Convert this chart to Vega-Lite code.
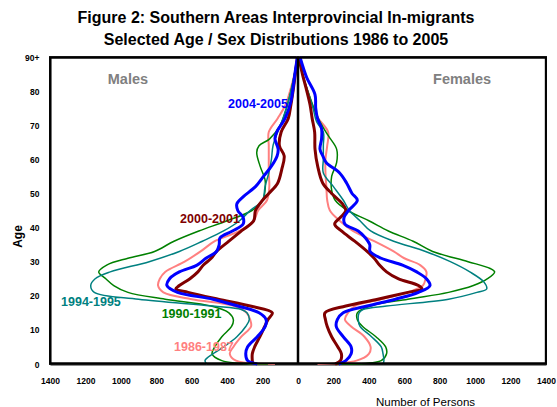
{
"$schema": "https://vega.github.io/schema/vega-lite/v6.json",
"width": 496, "height": 307,
"autosize": {"type": "none"},
"padding": {"left": 50, "top": 57, "right": 11, "bottom": 43},
"background": "white",
"config": {"font": "Liberation Sans", "view": {"stroke": "#1a1a1a", "strokeWidth": 2}, "axis": {"labelOverlap": false}},
"title": {"text": ["Figure 2: Southern Areas Interprovincial In-migrants", "Selected Age / Sex Distributions 1986 to 2005"], "font": "Liberation Sans", "fontSize": 16, "fontWeight": "bold", "color": "#000", "anchor": "middle", "dx": -22, "offset": 3, "lineHeight": 22},
"datasets": {
"lines": [
{"s":"1986-1987","g":"M","a":0,"n":-130},{"s":"1986-1987","g":"M","a":1,"n":-350},{"s":"1986-1987","g":"M","a":3,"n":-385},{"s":"1986-1987","g":"M","a":5,"n":-365},{"s":"1986-1987","g":"M","a":8,"n":-320},{"s":"1986-1987","g":"M","a":11,"n":-265},{"s":"1986-1987","g":"M","a":13,"n":-270},{"s":"1986-1987","g":"M","a":15,"n":-290},{"s":"1986-1987","g":"M","a":17,"n":-360},{"s":"1986-1987","g":"M","a":19,"n":-600},{"s":"1986-1987","g":"M","a":21,"n":-760},{"s":"1986-1987","g":"M","a":23,"n":-790},{"s":"1986-1987","g":"M","a":25,"n":-780},{"s":"1986-1987","g":"M","a":27,"n":-750},{"s":"1986-1987","g":"M","a":30,"n":-640},{"s":"1986-1987","g":"M","a":33,"n":-550},{"s":"1986-1987","g":"M","a":36,"n":-470},{"s":"1986-1987","g":"M","a":39,"n":-330},{"s":"1986-1987","g":"M","a":42,"n":-250},{"s":"1986-1987","g":"M","a":45,"n":-225},{"s":"1986-1987","g":"M","a":48,"n":-175},{"s":"1986-1987","g":"M","a":52,"n":-162},{"s":"1986-1987","g":"M","a":56,"n":-165},{"s":"1986-1987","g":"M","a":60,"n":-165},{"s":"1986-1987","g":"M","a":64,"n":-165},{"s":"1986-1987","g":"M","a":68,"n":-165},{"s":"1986-1987","g":"M","a":72,"n":-115},{"s":"1986-1987","g":"M","a":76,"n":-70},{"s":"1986-1987","g":"M","a":80,"n":-45},{"s":"1986-1987","g":"M","a":85,"n":-20},{"s":"1986-1987","g":"M","a":90,"n":-3},
{"s":"1990-1991","g":"M","a":0,"n":-170},{"s":"1990-1991","g":"M","a":1,"n":-430},{"s":"1990-1991","g":"M","a":3,"n":-485},{"s":"1990-1991","g":"M","a":5,"n":-470},{"s":"1990-1991","g":"M","a":8,"n":-430},{"s":"1990-1991","g":"M","a":11,"n":-375},{"s":"1990-1991","g":"M","a":13,"n":-365},{"s":"1990-1991","g":"M","a":15,"n":-390},{"s":"1990-1991","g":"M","a":17,"n":-490},{"s":"1990-1991","g":"M","a":19,"n":-750},{"s":"1990-1991","g":"M","a":21,"n":-960},{"s":"1990-1991","g":"M","a":23,"n":-1040},{"s":"1990-1991","g":"M","a":25,"n":-1085},{"s":"1990-1991","g":"M","a":27,"n":-1125},{"s":"1990-1991","g":"M","a":29,"n":-1080},{"s":"1990-1991","g":"M","a":31,"n":-960},{"s":"1990-1991","g":"M","a":33,"n":-810},{"s":"1990-1991","g":"M","a":36,"n":-700},{"s":"1990-1991","g":"M","a":39,"n":-560},{"s":"1990-1991","g":"M","a":42,"n":-400},{"s":"1990-1991","g":"M","a":45,"n":-260},{"s":"1990-1991","g":"M","a":48,"n":-200},{"s":"1990-1991","g":"M","a":51,"n":-186},{"s":"1990-1991","g":"M","a":54,"n":-186},{"s":"1990-1991","g":"M","a":58,"n":-214},{"s":"1990-1991","g":"M","a":62,"n":-233},{"s":"1990-1991","g":"M","a":64,"n":-220},{"s":"1990-1991","g":"M","a":66,"n":-160},{"s":"1990-1991","g":"M","a":70,"n":-100},{"s":"1990-1991","g":"M","a":75,"n":-65},{"s":"1990-1991","g":"M","a":80,"n":-40},{"s":"1990-1991","g":"M","a":85,"n":-20},{"s":"1990-1991","g":"M","a":90,"n":-3},
{"s":"1994-1995","g":"M","a":0,"n":-515},{"s":"1994-1995","g":"M","a":1,"n":-525},{"s":"1994-1995","g":"M","a":3,"n":-480},{"s":"1994-1995","g":"M","a":5,"n":-420},{"s":"1994-1995","g":"M","a":8,"n":-345},{"s":"1994-1995","g":"M","a":11,"n":-295},{"s":"1994-1995","g":"M","a":13,"n":-275},{"s":"1994-1995","g":"M","a":15,"n":-288},{"s":"1994-1995","g":"M","a":16,"n":-320},{"s":"1994-1995","g":"M","a":17,"n":-480},{"s":"1994-1995","g":"M","a":19,"n":-900},{"s":"1994-1995","g":"M","a":21,"n":-1150},{"s":"1994-1995","g":"M","a":23,"n":-1170},{"s":"1994-1995","g":"M","a":25,"n":-1145},{"s":"1994-1995","g":"M","a":27,"n":-1060},{"s":"1994-1995","g":"M","a":30,"n":-840},{"s":"1994-1995","g":"M","a":33,"n":-670},{"s":"1994-1995","g":"M","a":36,"n":-540},{"s":"1994-1995","g":"M","a":39,"n":-420},{"s":"1994-1995","g":"M","a":42,"n":-330},{"s":"1994-1995","g":"M","a":45,"n":-270},{"s":"1994-1995","g":"M","a":48,"n":-200},{"s":"1994-1995","g":"M","a":52,"n":-186},{"s":"1994-1995","g":"M","a":56,"n":-165},{"s":"1994-1995","g":"M","a":60,"n":-150},{"s":"1994-1995","g":"M","a":64,"n":-141},{"s":"1994-1995","g":"M","a":68,"n":-115},{"s":"1994-1995","g":"M","a":72,"n":-85},{"s":"1994-1995","g":"M","a":76,"n":-60},{"s":"1994-1995","g":"M","a":80,"n":-40},{"s":"1994-1995","g":"M","a":85,"n":-20},{"s":"1994-1995","g":"M","a":90,"n":-3},
{"s":"2000-2001","g":"M","a":0,"n":-255},{"s":"2000-2001","g":"M","a":1,"n":-258},{"s":"2000-2001","g":"M","a":3,"n":-258},{"s":"2000-2001","g":"M","a":5,"n":-245},{"s":"2000-2001","g":"M","a":8,"n":-215},{"s":"2000-2001","g":"M","a":11,"n":-188},{"s":"2000-2001","g":"M","a":13,"n":-170},{"s":"2000-2001","g":"M","a":15,"n":-145},{"s":"2000-2001","g":"M","a":17,"n":-270},{"s":"2000-2001","g":"M","a":19,"n":-450},{"s":"2000-2001","g":"M","a":21,"n":-620},{"s":"2000-2001","g":"M","a":22,"n":-690},{"s":"2000-2001","g":"M","a":23,"n":-670},{"s":"2000-2001","g":"M","a":25,"n":-610},{"s":"2000-2001","g":"M","a":27,"n":-565},{"s":"2000-2001","g":"M","a":29,"n":-534},{"s":"2000-2001","g":"M","a":31,"n":-490},{"s":"2000-2001","g":"M","a":33,"n":-460},{"s":"2000-2001","g":"M","a":36,"n":-390},{"s":"2000-2001","g":"M","a":39,"n":-320},{"s":"2000-2001","g":"M","a":42,"n":-250},{"s":"2000-2001","g":"M","a":45,"n":-240},{"s":"2000-2001","g":"M","a":48,"n":-200},{"s":"2000-2001","g":"M","a":50,"n":-165},{"s":"2000-2001","g":"M","a":53,"n":-115},{"s":"2000-2001","g":"M","a":57,"n":-92},{"s":"2000-2001","g":"M","a":61,"n":-78},{"s":"2000-2001","g":"M","a":64,"n":-105},{"s":"2000-2001","g":"M","a":68,"n":-95},{"s":"2000-2001","g":"M","a":72,"n":-55},{"s":"2000-2001","g":"M","a":76,"n":-40},{"s":"2000-2001","g":"M","a":80,"n":-28},{"s":"2000-2001","g":"M","a":85,"n":-15},{"s":"2000-2001","g":"M","a":90,"n":-3},
{"s":"2004-2005","g":"M","a":0,"n":-230},{"s":"2004-2005","g":"M","a":1,"n":-285},{"s":"2004-2005","g":"M","a":3,"n":-295},{"s":"2004-2005","g":"M","a":5,"n":-285},{"s":"2004-2005","g":"M","a":8,"n":-230},{"s":"2004-2005","g":"M","a":11,"n":-185},{"s":"2004-2005","g":"M","a":13,"n":-180},{"s":"2004-2005","g":"M","a":15,"n":-220},{"s":"2004-2005","g":"M","a":17,"n":-340},{"s":"2004-2005","g":"M","a":19,"n":-480},{"s":"2004-2005","g":"M","a":21,"n":-680},{"s":"2004-2005","g":"M","a":23,"n":-740},{"s":"2004-2005","g":"M","a":25,"n":-725},{"s":"2004-2005","g":"M","a":27,"n":-670},{"s":"2004-2005","g":"M","a":29,"n":-570},{"s":"2004-2005","g":"M","a":31,"n":-520},{"s":"2004-2005","g":"M","a":33,"n":-460},{"s":"2004-2005","g":"M","a":35,"n":-445},{"s":"2004-2005","g":"M","a":37,"n":-440},{"s":"2004-2005","g":"M","a":39,"n":-370},{"s":"2004-2005","g":"M","a":41,"n":-310},{"s":"2004-2005","g":"M","a":43,"n":-310},{"s":"2004-2005","g":"M","a":45,"n":-340},{"s":"2004-2005","g":"M","a":47,"n":-345},{"s":"2004-2005","g":"M","a":49,"n":-310},{"s":"2004-2005","g":"M","a":52,"n":-240},{"s":"2004-2005","g":"M","a":55,"n":-195},{"s":"2004-2005","g":"M","a":58,"n":-150},{"s":"2004-2005","g":"M","a":61,"n":-118},{"s":"2004-2005","g":"M","a":63,"n":-112},{"s":"2004-2005","g":"M","a":66,"n":-130},{"s":"2004-2005","g":"M","a":68,"n":-120},{"s":"2004-2005","g":"M","a":72,"n":-73},{"s":"2004-2005","g":"M","a":77,"n":-40},{"s":"2004-2005","g":"M","a":82,"n":-25},{"s":"2004-2005","g":"M","a":86,"n":-15},{"s":"2004-2005","g":"M","a":90,"n":-3},
{"s":"1986-1987","g":"F","a":0,"n":110},{"s":"1986-1987","g":"F","a":1,"n":330},{"s":"1986-1987","g":"F","a":3,"n":400},{"s":"1986-1987","g":"F","a":5,"n":410},{"s":"1986-1987","g":"F","a":8,"n":375},{"s":"1986-1987","g":"F","a":11,"n":300},{"s":"1986-1987","g":"F","a":13,"n":265},{"s":"1986-1987","g":"F","a":15,"n":282},{"s":"1986-1987","g":"F","a":17,"n":320},{"s":"1986-1987","g":"F","a":19,"n":470},{"s":"1986-1987","g":"F","a":21,"n":620},{"s":"1986-1987","g":"F","a":23,"n":705},{"s":"1986-1987","g":"F","a":25,"n":720},{"s":"1986-1987","g":"F","a":27,"n":725},{"s":"1986-1987","g":"F","a":29,"n":690},{"s":"1986-1987","g":"F","a":31,"n":600},{"s":"1986-1987","g":"F","a":33,"n":540},{"s":"1986-1987","g":"F","a":36,"n":430},{"s":"1986-1987","g":"F","a":39,"n":310},{"s":"1986-1987","g":"F","a":42,"n":235},{"s":"1986-1987","g":"F","a":45,"n":180},{"s":"1986-1987","g":"F","a":48,"n":165},{"s":"1986-1987","g":"F","a":52,"n":160},{"s":"1986-1987","g":"F","a":56,"n":155},{"s":"1986-1987","g":"F","a":60,"n":155},{"s":"1986-1987","g":"F","a":64,"n":165},{"s":"1986-1987","g":"F","a":68,"n":170},{"s":"1986-1987","g":"F","a":72,"n":115},{"s":"1986-1987","g":"F","a":76,"n":80},{"s":"1986-1987","g":"F","a":80,"n":55},{"s":"1986-1987","g":"F","a":85,"n":25},{"s":"1986-1987","g":"F","a":90,"n":5},
{"s":"1990-1991","g":"F","a":0,"n":220},{"s":"1990-1991","g":"F","a":1,"n":470},{"s":"1990-1991","g":"F","a":3,"n":500},{"s":"1990-1991","g":"F","a":5,"n":495},{"s":"1990-1991","g":"F","a":8,"n":440},{"s":"1990-1991","g":"F","a":11,"n":365},{"s":"1990-1991","g":"F","a":13,"n":335},{"s":"1990-1991","g":"F","a":15,"n":335},{"s":"1990-1991","g":"F","a":17,"n":410},{"s":"1990-1991","g":"F","a":19,"n":620},{"s":"1990-1991","g":"F","a":21,"n":850},{"s":"1990-1991","g":"F","a":23,"n":990},{"s":"1990-1991","g":"F","a":25,"n":1070},{"s":"1990-1991","g":"F","a":27,"n":1110},{"s":"1990-1991","g":"F","a":28,"n":1085},{"s":"1990-1991","g":"F","a":30,"n":960},{"s":"1990-1991","g":"F","a":33,"n":760},{"s":"1990-1991","g":"F","a":36,"n":650},{"s":"1990-1991","g":"F","a":39,"n":510},{"s":"1990-1991","g":"F","a":42,"n":400},{"s":"1990-1991","g":"F","a":45,"n":280},{"s":"1990-1991","g":"F","a":48,"n":210},{"s":"1990-1991","g":"F","a":51,"n":190},{"s":"1990-1991","g":"F","a":55,"n":190},{"s":"1990-1991","g":"F","a":59,"n":218},{"s":"1990-1991","g":"F","a":63,"n":218},{"s":"1990-1991","g":"F","a":67,"n":170},{"s":"1990-1991","g":"F","a":71,"n":124},{"s":"1990-1991","g":"F","a":75,"n":90},{"s":"1990-1991","g":"F","a":80,"n":55},{"s":"1990-1991","g":"F","a":85,"n":25},{"s":"1990-1991","g":"F","a":90,"n":5},
{"s":"1994-1995","g":"F","a":0,"n":480},{"s":"1994-1995","g":"F","a":1,"n":485},{"s":"1994-1995","g":"F","a":3,"n":480},{"s":"1994-1995","g":"F","a":5,"n":470},{"s":"1994-1995","g":"F","a":8,"n":415},{"s":"1994-1995","g":"F","a":11,"n":350},{"s":"1994-1995","g":"F","a":13,"n":340},{"s":"1994-1995","g":"F","a":15,"n":345},{"s":"1994-1995","g":"F","a":16,"n":370},{"s":"1994-1995","g":"F","a":17,"n":500},{"s":"1994-1995","g":"F","a":19,"n":850},{"s":"1994-1995","g":"F","a":21,"n":1010},{"s":"1994-1995","g":"F","a":22,"n":1065},{"s":"1994-1995","g":"F","a":24,"n":1050},{"s":"1994-1995","g":"F","a":27,"n":970},{"s":"1994-1995","g":"F","a":30,"n":860},{"s":"1994-1995","g":"F","a":33,"n":720},{"s":"1994-1995","g":"F","a":36,"n":540},{"s":"1994-1995","g":"F","a":39,"n":410},{"s":"1994-1995","g":"F","a":42,"n":350},{"s":"1994-1995","g":"F","a":45,"n":290},{"s":"1994-1995","g":"F","a":48,"n":256},{"s":"1994-1995","g":"F","a":52,"n":200},{"s":"1994-1995","g":"F","a":56,"n":143},{"s":"1994-1995","g":"F","a":60,"n":143},{"s":"1994-1995","g":"F","a":64,"n":143},{"s":"1994-1995","g":"F","a":68,"n":143},{"s":"1994-1995","g":"F","a":71,"n":105},{"s":"1994-1995","g":"F","a":75,"n":85},{"s":"1994-1995","g":"F","a":80,"n":55},{"s":"1994-1995","g":"F","a":85,"n":25},{"s":"1994-1995","g":"F","a":90,"n":5},
{"s":"2000-2001","g":"F","a":0,"n":210},{"s":"2000-2001","g":"F","a":1,"n":240},{"s":"2000-2001","g":"F","a":3,"n":245},{"s":"2000-2001","g":"F","a":5,"n":225},{"s":"2000-2001","g":"F","a":8,"n":190},{"s":"2000-2001","g":"F","a":11,"n":165},{"s":"2000-2001","g":"F","a":13,"n":155},{"s":"2000-2001","g":"F","a":15,"n":152},{"s":"2000-2001","g":"F","a":17,"n":270},{"s":"2000-2001","g":"F","a":19,"n":450},{"s":"2000-2001","g":"F","a":21,"n":620},{"s":"2000-2001","g":"F","a":22,"n":700},{"s":"2000-2001","g":"F","a":23,"n":680},{"s":"2000-2001","g":"F","a":25,"n":565},{"s":"2000-2001","g":"F","a":27,"n":500},{"s":"2000-2001","g":"F","a":29,"n":460},{"s":"2000-2001","g":"F","a":31,"n":430},{"s":"2000-2001","g":"F","a":33,"n":390},{"s":"2000-2001","g":"F","a":36,"n":320},{"s":"2000-2001","g":"F","a":39,"n":245},{"s":"2000-2001","g":"F","a":41,"n":207},{"s":"2000-2001","g":"F","a":43,"n":240},{"s":"2000-2001","g":"F","a":45,"n":270},{"s":"2000-2001","g":"F","a":47,"n":250},{"s":"2000-2001","g":"F","a":50,"n":190},{"s":"2000-2001","g":"F","a":53,"n":140},{"s":"2000-2001","g":"F","a":58,"n":111},{"s":"2000-2001","g":"F","a":63,"n":96},{"s":"2000-2001","g":"F","a":68,"n":94},{"s":"2000-2001","g":"F","a":72,"n":80},{"s":"2000-2001","g":"F","a":76,"n":68},{"s":"2000-2001","g":"F","a":81,"n":45},{"s":"2000-2001","g":"F","a":85,"n":25},{"s":"2000-2001","g":"F","a":90,"n":5},
{"s":"2004-2005","g":"F","a":0,"n":230},{"s":"2004-2005","g":"F","a":1,"n":270},{"s":"2004-2005","g":"F","a":3,"n":300},{"s":"2004-2005","g":"F","a":5,"n":300},{"s":"2004-2005","g":"F","a":8,"n":255},{"s":"2004-2005","g":"F","a":11,"n":216},{"s":"2004-2005","g":"F","a":13,"n":222},{"s":"2004-2005","g":"F","a":15,"n":255},{"s":"2004-2005","g":"F","a":17,"n":390},{"s":"2004-2005","g":"F","a":19,"n":550},{"s":"2004-2005","g":"F","a":21,"n":680},{"s":"2004-2005","g":"F","a":23,"n":745},{"s":"2004-2005","g":"F","a":25,"n":725},{"s":"2004-2005","g":"F","a":27,"n":670},{"s":"2004-2005","g":"F","a":29,"n":590},{"s":"2004-2005","g":"F","a":31,"n":470},{"s":"2004-2005","g":"F","a":33,"n":407},{"s":"2004-2005","g":"F","a":35,"n":405},{"s":"2004-2005","g":"F","a":37,"n":380},{"s":"2004-2005","g":"F","a":39,"n":340},{"s":"2004-2005","g":"F","a":41,"n":265},{"s":"2004-2005","g":"F","a":43,"n":260},{"s":"2004-2005","g":"F","a":45,"n":285},{"s":"2004-2005","g":"F","a":48,"n":335},{"s":"2004-2005","g":"F","a":50,"n":305},{"s":"2004-2005","g":"F","a":53,"n":275},{"s":"2004-2005","g":"F","a":56,"n":235},{"s":"2004-2005","g":"F","a":59,"n":160},{"s":"2004-2005","g":"F","a":61,"n":140},{"s":"2004-2005","g":"F","a":63,"n":124},{"s":"2004-2005","g":"F","a":66,"n":133},{"s":"2004-2005","g":"F","a":69,"n":133},{"s":"2004-2005","g":"F","a":72,"n":110},{"s":"2004-2005","g":"F","a":75,"n":100},{"s":"2004-2005","g":"F","a":79,"n":96},{"s":"2004-2005","g":"F","a":84,"n":49},{"s":"2004-2005","g":"F","a":90,"n":11}
],
"serieslabels": [
{"s":"2004-2005","n":-226,"a":76.2},
{"s":"2000-2001","n":-497,"a":42.4},
{"s":"1994-1995","n":-1169,"a":18.3},
{"s":"1990-1991","n":-601,"a":14.7},
{"s":"1986-1987","n":-531,"a":5.1}
],
"sexlabels": [
{"t":"Males","n":-960,"a":83.2},
{"t":"Females","n":926,"a":83.2}
],
"vrules": [{"n":-1399,"a0":0,"a1":90},{"n":1399,"a0":0,"a1":90}],
"hrules": [{"a":0.2,"n0":-1400,"n1":1400},{"a":89.8,"n0":-1400,"n1":1400}],
"centre": [{"n":0,"a0":0,"a1":90}]
},
"encoding": {
"x": {"field": "n", "type": "quantitative", "scale": {"domain": [-1400, 1400], "nice": false},
"axis": {"values": [-1400,-1200,-1000,-800,-600,-400,-200,0,200,400,600,800,1000,1200,1400], "labelExpr": "format(abs(datum.value), 'd')", "labelFont": "Liberation Sans", "labelFontWeight": "bold", "labelFontSize": 8.5, "labelColor": "#000", "ticks": false, "domain": true, "domainColor": "#1a1a1a", "domainWidth": 2, "grid": false, "labelPadding": 12, "labelFlush": false, "labelOverlap": false,
"title": "Number of Persons", "titleFont": "Liberation Sans", "titleFontWeight": "normal", "titleFontSize": 11.5, "titleColor": "#000", "titleX": 375, "titleY": 41, "titleBaseline": "alphabetic", "titleAlign": "center"}},
"y": {"field": "a", "type": "quantitative", "scale": {"domain": [0, 90], "nice": false},
"axis": {"values": [0,10,20,30,40,50,60,70,80,90], "labelExpr": "datum.value == 90 ? '90+' : datum.label", "labelFont": "Liberation Sans", "labelFontWeight": "bold", "labelFontSize": 8.5, "labelColor": "#000", "ticks": false, "domain": true, "domainColor": "#1a1a1a", "domainWidth": 2, "grid": false, "labelPadding": 11, "labelFlush": false, "labelOverlap": false,
"title": "Age", "titleFont": "Liberation Sans", "titleFontWeight": "bold", "titleFontSize": 12, "titleColor": "#000", "titleX": -33, "titleY": 179, "titleBaseline": "middle", "titleAlign": "center", "titleAngle": -90}}
},
"layer": [
{
"data": {"name": "lines"},
"mark": {"type": "line", "interpolate": "catmull-rom"},
"encoding": {
"color": {"field": "s", "type": "nominal", "scale": {"domain": ["1986-1987","1990-1991","1994-1995","2000-2001","2004-2005"], "range": ["#FF8080","#008000","#008080","#800000","#0000FF"]}, "legend": null},
"strokeWidth": {"field": "s", "type": "nominal", "scale": {"type": "ordinal", "domain": ["1986-1987","1990-1991","1994-1995","2000-2001","2004-2005"], "range": [2, 1.5, 1.5, 3, 3]}, "legend": null},
"detail": {"field": "g", "type": "nominal"},
"order": {"field": "a", "type": "quantitative"}
}
},
{
"data": {"name": "centre"},
"mark": {"type": "rule", "color": "#000", "strokeWidth": 2.5},
"encoding": {"y": {"field": "a0", "type": "quantitative"}, "y2": {"field": "a1"}}
},
{
"data": {"name": "vrules"},
"mark": {"type": "rule", "color": "#000000", "strokeWidth": 2},
"encoding": {"y": {"field": "a0", "type": "quantitative"}, "y2": {"field": "a1"}}
},
{
"data": {"name": "hrules"},
"mark": {"type": "rule", "color": "#000000", "strokeWidth": 2},
"encoding": {"x": {"field": "n0", "type": "quantitative"}, "x2": {"field": "n1"}}
},
{
"data": {"name": "serieslabels"},
"mark": {"type": "text", "fontWeight": "bold", "fontSize": 12.5, "align": "center", "baseline": "middle", "font": "Liberation Sans"},
"encoding": {
"text": {"field": "s"},
"color": {"field": "s", "type": "nominal", "legend": null}
}
},
{
"data": {"name": "sexlabels"},
"mark": {"type": "text", "fontWeight": "bold", "fontSize": 14.5, "align": "center", "baseline": "middle", "color": "#808080", "font": "Liberation Sans"},
"encoding": {
"text": {"field": "t"}
}
}
]
}
